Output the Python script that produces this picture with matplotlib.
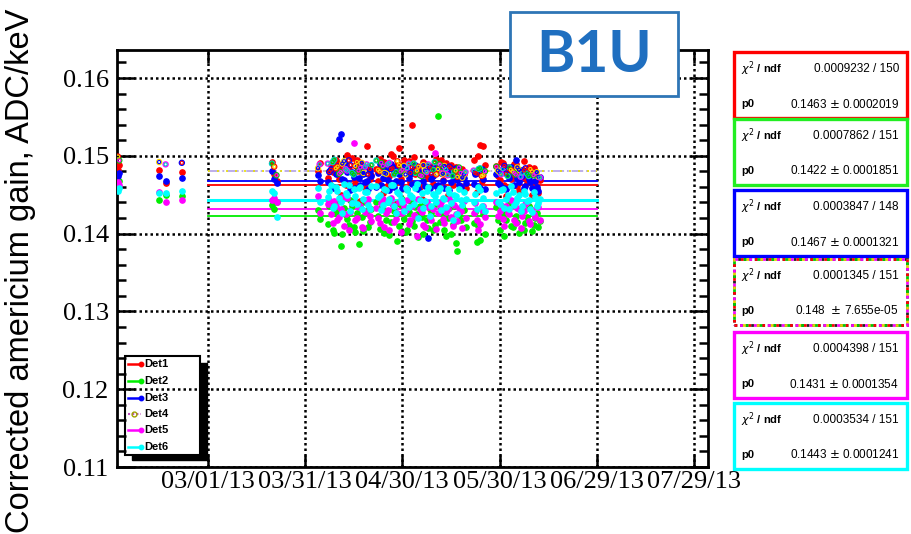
import numpy as np
import pandas as pd
import matplotlib
matplotlib.use('Agg')
import matplotlib.pyplot as plt
from matplotlib.patches import Rectangle
from matplotlib.lines import Line2D
from matplotlib.ticker import MultipleLocator

# days after 2013-02-01
start_date = '2013-02-01'
days_early = [0.3, 0.7, 13, 15, 20, 47.8, 48.5, 49.2]
days_main = [62, 65, 66, 67, 68, 69, 70, 71, 72, 73, 74, 75, 76, 77, 78,
             80, 81, 82, 83, 84, 85, 86, 87, 88, 89, 90, 91, 92, 93, 94, 95, 96, 97, 98, 99,
             100, 101, 102, 103, 104, 105, 106, 107,
             110, 111, 112, 113,
             117, 118, 119, 120, 121, 122, 123, 124, 125, 126, 127, 128, 129, 130]
days_main_b = [62.5, 65.5, 66.5, 67.5, 68.5, 69.5, 70.5, 71.5, 72.5, 73.5, 74.5, 75.5, 76.5, 77.5, 78.5,
               80.5, 81.5, 82.5, 83.5, 84.5, 85.5, 86.5, 87.5, 88.5, 89.5, 90.5, 91.5, 92.5, 93.5, 94.5,
               95.5, 96.5, 97.5, 98.5, 99.5, 100.5, 101.5, 102.5, 103.5, 104.5, 105.5, 106.5, 107.5,
               110.5, 111.5, 112.5, 113.5,
               117.5, 118.5, 119.5, 120.5, 121.5, 122.5, 123.5, 124.5, 125.5, 126.5, 127.5, 128.5, 129.5, 130.5]

det1 = [0.1482, 0.1488, 0.1482, 0.1465, 0.1479, 0.1492, 0.1477, 0.1468,
        0.1480, 0.1472, 0.1488, 0.1458, 0.1491, 0.1449, 0.1485, 0.1501, 0.1463, 0.1478, 0.1495, 0.1442, 0.1487, 0.1512, 0.1470,
        0.1483, 0.1496, 0.1452, 0.1489, 0.1474, 0.1500, 0.1438, 0.1510, 0.1481, 0.1457, 0.1493, 0.1539, 0.1476, 0.1486,
        0.1445, 0.1490, 0.1471, 0.1511, 0.1484, 0.1456, 0.1494, 0.1478, 0.1449, 0.1488, 0.1473, 0.1482, 0.1461, 0.1476,
        0.1495, 0.1453, 0.1514, 0.1512,
        0.1487, 0.1469, 0.1491, 0.1448, 0.1483, 0.1474, 0.1489, 0.1455, 0.1480, 0.1471, 0.1485, 0.1450, 0.1466, 0.1452]
det1_b = [0.1491, 0.1466, 0.1479, 0.1494, 0.1470, 0.1487, 0.1462, 0.1483, 0.1497, 0.1468, 0.1481, 0.1490, 0.1459, 0.1486, 0.1475,
          0.1468, 0.1485, 0.1492, 0.1463, 0.1502, 0.1479, 0.1488, 0.1470, 0.1495, 0.1484, 0.1466, 0.1499, 0.1481, 0.1460,
          0.1492, 0.1475, 0.1487, 0.1464, 0.1496, 0.1480, 0.1469, 0.1491, 0.1477, 0.1462, 0.1486, 0.1471, 0.1483, 0.1458,
          0.1479, 0.1500, 0.1467, 0.1488,
          0.1474, 0.1492, 0.1463, 0.1485, 0.1470, 0.1489, 0.1461, 0.1478, 0.1493, 0.1465, 0.1476, 0.1484, 0.1457, 0.1469]
det2 = [0.1460, 0.1468, 0.1443, 0.1449, 0.1448, 0.1437, 0.1431, 0.1440,
        0.1430, 0.1412, 0.1438, 0.1401, 0.1425, 0.1384, 0.1433, 0.1419, 0.1443, 0.1408, 0.1427, 0.1436, 0.1403, 0.1429, 0.1415,
        0.1440, 0.1406, 0.1431, 0.1418, 0.1398, 0.1437, 0.1424, 0.1410, 0.1445, 0.1402, 0.1428, 0.1416, 0.1434, 0.1396,
        0.1421, 0.1439, 0.1407, 0.1426, 0.1411, 0.1551, 0.1433, 0.1404, 0.1420, 0.1399, 0.1436, 0.1377, 0.1417, 0.1430,
        0.1413, 0.1389, 0.1392, 0.1425,
        0.1434, 0.1405, 0.1427, 0.1418, 0.1439, 0.1409, 0.1422, 0.1401, 0.1431, 0.1414, 0.1436, 0.1403, 0.1420, 0.1408]
det2_b = [0.1419, 0.1436, 0.1405, 0.1428, 0.1442, 0.1399, 0.1424, 0.1411, 0.1435, 0.1402, 0.1386, 0.1421, 0.1440, 0.1408, 0.1431,
          0.1423, 0.1433, 0.1401, 0.1440, 0.1415, 0.1429, 0.1390, 0.1437, 0.1419, 0.1405, 0.1442, 0.1410, 0.1425, 0.1436,
          0.1400, 0.1418, 0.1432, 0.1404, 0.1438, 0.1415, 0.1427, 0.1397, 0.1433, 0.1412, 0.1388, 0.1424, 0.1435, 0.1409,
          0.1428, 0.1410, 0.1434, 0.1400,
          0.1417, 0.1432, 0.1397, 0.1426, 0.1410, 0.1437, 0.1415, 0.1429, 0.1404, 0.1421, 0.1433, 0.1411, 0.1426, 0.1416]
det3 = [0.1474, 0.1478, 0.1474, 0.1468, 0.1472, 0.1480, 0.1470, 0.1465,
        0.1475, 0.1466, 0.1483, 0.1458, 0.1487, 0.1528, 0.1469, 0.1479, 0.1456, 0.1473, 0.1485, 0.1462, 0.1476, 0.1468, 0.1481,
        0.1460, 0.1489, 0.1471, 0.1480, 0.1456, 0.1486, 0.1467, 0.1477, 0.1459, 0.1483, 0.1472, 0.1464, 0.1488, 0.1457,
        0.1475, 0.1461, 0.1394, 0.1470, 0.1484, 0.1463, 0.1478, 0.1458, 0.1482, 0.1466, 0.1473, 0.1469, 0.1460, 0.1471,
        0.1464, 0.1478, 0.1459, 0.1470,
        0.1476, 0.1462, 0.1484, 0.1457, 0.1472, 0.1479, 0.1494, 0.1466, 0.1474, 0.1461, 0.1470, 0.1458, 0.1467, 0.1455]
det3_b = [0.1468, 0.1481, 0.1460, 0.1477, 0.1522, 0.1470, 0.1488, 0.1463, 0.1479, 0.1458, 0.1472, 0.1484, 0.1466, 0.1457, 0.1474,
          0.1478, 0.1463, 0.1485, 0.1469, 0.1490, 0.1460, 0.1481, 0.1466, 0.1487, 0.1457, 0.1476, 0.1483, 0.1462, 0.1479,
          0.1468, 0.1486, 0.1459, 0.1474, 0.1461, 0.1485, 0.1467, 0.1480, 0.1456, 0.1475, 0.1484, 0.1462, 0.1478, 0.1465,
          0.1476, 0.1461, 0.1483, 0.1457,
          0.1465, 0.1480, 0.1459, 0.1477, 0.1486, 0.1463, 0.1471, 0.1482, 0.1458, 0.1476, 0.1466, 0.1479, 0.1460, 0.1473]
det4 = [0.1499, 0.1494, 0.1492, 0.1489, 0.1491, 0.1490, 0.1486, 0.1475,
        0.1484, 0.1490, 0.1482, 0.1495, 0.1486, 0.1479, 0.1493, 0.1481, 0.1488, 0.1476, 0.1492, 0.1485, 0.1478, 0.1489, 0.1483,
        0.1494, 0.1480, 0.1487, 0.1477, 0.1491, 0.1484, 0.1479, 0.1488, 0.1482, 0.1476, 0.1490, 0.1485, 0.1478, 0.1486,
        0.1474, 0.1481, 0.1489, 0.1477, 0.1492, 0.1483, 0.1479, 0.1487, 0.1475, 0.1484, 0.1480, 0.1473, 0.1478, 0.1476,
        0.1481, 0.1477, 0.1484, 0.1475,
        0.1486, 0.1479, 0.1483, 0.1477, 0.1485, 0.1480, 0.1476, 0.1482, 0.1478, 0.1484, 0.1474, 0.1480, 0.1477, 0.1473]
det4_b = [0.1489, 0.1479, 0.1492, 0.1484, 0.1477, 0.1490, 0.1483, 0.1494, 0.1478, 0.1487, 0.1481, 0.1491, 0.1486, 0.1476, 0.1488,
          0.1482, 0.1491, 0.1478, 0.1489, 0.1483, 0.1476, 0.1493, 0.1480, 0.1487, 0.1484, 0.1478, 0.1490, 0.1481, 0.1475,
          0.1488, 0.1479, 0.1485, 0.1482, 0.1476, 0.1489, 0.1477, 0.1483, 0.1486, 0.1474, 0.1481, 0.1485, 0.1472, 0.1479,
          0.1478, 0.1483, 0.1474, 0.1480,
          0.1481, 0.1476, 0.1487, 0.1474, 0.1482, 0.1478, 0.1485, 0.1473, 0.1481, 0.1477, 0.1483, 0.1475, 0.1479, 0.1472]
det5 = [0.1466, 0.1462, 0.1453, 0.1441, 0.1443, 0.1443, 0.1446, 0.1440,
        0.1448, 0.1438, 0.1425, 0.1442, 0.1417, 0.1432, 0.1410, 0.1446, 0.1428, 0.1516, 0.1420, 0.1435, 0.1407, 0.1440, 0.1423,
        0.1433, 0.1414, 0.1445, 0.1427, 0.1404, 0.1437, 0.1419, 0.1441, 0.1426, 0.1430, 0.1412, 0.1436, 0.1422, 0.1444,
        0.1428, 0.1409, 0.1434, 0.1418, 0.1504, 0.1426, 0.1440, 0.1413, 0.1431, 0.1421, 0.1437, 0.1416, 0.1429, 0.1442,
        0.1427, 0.1418, 0.1412, 0.1435,
        0.1440, 0.1429, 0.1419, 0.1436, 0.1425, 0.1442, 0.1414, 0.1432, 0.1423, 0.1438, 0.1416, 0.1430, 0.1421, 0.1434]
det5_b = [0.1427, 0.1443, 0.1413, 0.1436, 0.1421, 0.1447, 0.1425, 0.1404, 0.1439, 0.1418, 0.1434, 0.1409, 0.1428, 0.1445, 0.1416,
          0.1420, 0.1439, 0.1408, 0.1430, 0.1446, 0.1415, 0.1427, 0.1402, 0.1435, 0.1443, 0.1418, 0.1424, 0.1397, 0.1432,
          0.1411, 0.1440, 0.1421, 0.1431, 0.1406, 0.1437, 0.1419, 0.1428, 0.1445, 0.1410, 0.1425, 0.1433, 0.1407, 0.1420,
          0.1439, 0.1404, 0.1430, 0.1421,
          0.1422, 0.1437, 0.1410, 0.1427, 0.1443, 0.1418, 0.1433, 0.1407, 0.1429, 0.1441, 0.1412, 0.1425, 0.1436, 0.1417]
det6 = [0.1455, 0.1459, 0.1452, 0.1452, 0.1455, 0.1455, 0.1452, 0.1421,
        0.1458, 0.1447, 0.1462, 0.1435, 0.1455, 0.1441, 0.1464, 0.1450, 0.1429, 0.1457, 0.1438, 0.1460, 0.1445, 0.1453, 0.1432,
        0.1461, 0.1449, 0.1437, 0.1456, 0.1444, 0.1463, 0.1427, 0.1451, 0.1440, 0.1458, 0.1434, 0.1447, 0.1459, 0.1420,
        0.1452, 0.1442, 0.1460, 0.1436, 0.1448, 0.1455, 0.1430, 0.1445, 0.1457, 0.1439, 0.1450, 0.1425, 0.1443, 0.1454,
        0.1440, 0.1432, 0.1456, 0.1446,
        0.1452, 0.1438, 0.1457, 0.1445, 0.1431, 0.1454, 0.1441, 0.1449, 0.1435, 0.1451, 0.1443, 0.1428, 0.1447, 0.1439]
det6_b = [0.1441, 0.1455, 0.1433, 0.1460, 0.1446, 0.1427, 0.1452, 0.1463, 0.1439, 0.1448, 0.1458, 0.1431, 0.1454, 0.1437, 0.1461,
          0.1447, 0.1430, 0.1457, 0.1441, 0.1462, 0.1435, 0.1453, 0.1444, 0.1429, 0.1456, 0.1449, 0.1438, 0.1464, 0.1443,
          0.1433, 0.1455, 0.1423, 0.1451, 0.1440, 0.1459, 0.1446, 0.1434, 0.1452, 0.1418, 0.1448, 0.1457, 0.1437, 0.1445,
          0.1451, 0.1460, 0.1436, 0.1429,
          0.1440, 0.1456, 0.1433, 0.1450, 0.1461, 0.1437, 0.1446, 0.1429, 0.1455, 0.1442, 0.1432, 0.1453, 0.1436, 0.1444]

det_names = ['Det1', 'Det2', 'Det3', 'Det4', 'Det5', 'Det6']
det_colors = ['#ff0000', '#00ee00', '#0000ff', '#c8a000', '#ff00ff', '#00ffff']
det4_speckle = ['#ff0000', '#00cc00', '#ffd700', '#ff00ff', '#0000ff', '#00cccc']

# pol0 fits
fit_p0 = [0.1463, 0.1422, 0.1467, 0.148, 0.1431, 0.1443]
fit_chi2 = ['0.0009232 / 150', '0.0007862 / 151', '0.0003847 / 148',
            '0.0001345 / 151', '0.0004398 / 151', '0.0003534 / 151']
fit_p0_text = ['0.1463 $\\pm$ 0.0002019', '0.1422 $\\pm$ 0.0001851', '0.1467 $\\pm$ 0.0001321',
               '0.148  $\\pm$ 7.655e-05', '0.1431 $\\pm$ 0.0001354', '0.1443 $\\pm$ 0.0001241']
fit_range = ['2013-03-01', '2013-06-29']

tick_dates = ['2013-03-01', '2013-03-31', '2013-04-30', '2013-05-30', '2013-06-29', '2013-07-29']
tick_labels = ['03/01/13', '03/31/13', '04/30/13', '05/30/13', '06/29/13', '07/29/13']
y_ticks = [0.11, 0.12, 0.13, 0.14, 0.15, 0.16]
y_tick_labels = ['0.11', '0.12', '0.13', '0.14', '0.15', '0.16']

W, H = 912, 534
def fx(x):
    return x / W
def fy(y):
    return 1 - y / H

base = pd.Timestamp(start_date)
dates = base + pd.to_timedelta(days_early + days_main + days_main_b, unit='D')
series = [det1 + det1_b, det2 + det2_b, det3 + det3_b, det4 + det4_b, det5 + det5_b, det6 + det6_b]

fig = plt.figure(figsize=(9.12, 5.34), dpi=100)
ax = fig.add_axes([fx(117), fy(467), (708 - 117) / W, (467 - 50) / H])
ax.set_axisbelow(False)

# fit lines
f0, f1 = pd.Timestamp(fit_range[0]), pd.Timestamp(fit_range[1])
lw_fit = [1.3, 1.3, 1.3, 1.3, 1.3, 2.2]
for i, p0 in enumerate(fit_p0):
    if i == 3:
        ax.plot([f0, f1], [p0, p0], color='#b8a8e8', lw=1.3, ls='-.', zorder=3)
        ax.plot([f0, f1], [p0, p0], color='#e8e000', lw=1.3, ls=(0, (1, 4)), zorder=3)
    else:
        ax.plot([f0, f1], [p0, p0], color=det_colors[i], lw=lw_fit[i], zorder=3)

# data points
for i, vals in enumerate(series):
    if i == 3:
        ec = [det4_speckle[k % len(det4_speckle)] for k in range(len(vals))]
        ax.scatter(dates, vals, s=13, facecolors='none', edgecolors=ec, linewidths=1.0, zorder=4 + i)
        ec2 = [det4_speckle[(k + 2) % len(det4_speckle)] for k in range(len(vals))]
        ax.scatter(dates, vals, s=5, facecolors='none', edgecolors=ec2, linewidths=0.8, zorder=4 + i)
    else:
        ax.plot(dates, vals, 'o', ms=3.8, color=det_colors[i], mec=det_colors[i], ls='none', zorder=4 + i)

ax.set_xlim(base, base + pd.Timedelta(days=182.3))
ax.set_ylim(0.11, 0.1636)
ax.set_xticks(pd.to_datetime(tick_dates))
ax.set_xticklabels(tick_labels)
ax.set_yticks(y_ticks)
ax.set_yticklabels(y_tick_labels)
ax.yaxis.set_minor_locator(MultipleLocator(0.002))

for s in ax.spines.values():
    s.set_linewidth(2.0)
ax.tick_params(which='both', direction='in', top=True, right=True, width=1.8, colors='black')
ax.tick_params(axis='y', which='major', length=13, pad=6)
ax.tick_params(axis='y', which='minor', length=6.5)
ax.tick_params(axis='x', which='major', length=9, pad=3)
for lab in ax.get_xticklabels() + ax.get_yticklabels():
    lab.set_fontfamily('Liberation Serif')
    lab.set_fontsize(19)
ax.grid(True, which='major', color='black', linestyle=(0, (1, 1.2)), linewidth=1.8)

fig.text(fx(21), fy(271), 'Corrected americium gain, ADC/keV', rotation=90,
         ha='center', va='center', fontsize=23.5, family='Liberation Sans')

# legend (ROOT style, black shadow)
tf = fig.transFigure
ax.add_patch(Rectangle((fx(132), fy(460)), (207 - 132) / W, (460 - 363) / H, transform=tf,
                       facecolor='black', edgecolor='black', zorder=1, clip_on=False))
ax.add_patch(Rectangle((fx(125), fy(455)), (200 - 125) / W, (455 - 356) / H, transform=tf,
                       facecolor='white', edgecolor='black', lw=1.5, zorder=1.1, clip_on=False))
leg_y = [364, 381, 398, 414, 430, 447]
for i, name in enumerate(det_names):
    yy = fy(leg_y[i])
    if i == 3:
        ax.add_line(Line2D([fx(128), fx(141)], [yy, yy], transform=tf, color='#c050c0', lw=1.5,
                           ls=(0, (1, 1)), zorder=5, clip_on=False))
        ax.add_line(Line2D([fx(134.5)], [yy], transform=tf, marker='o', ms=3.5, mfc='none',
                           mec='#a0a000', mew=1.0, zorder=6, clip_on=False))
    else:
        ax.add_line(Line2D([fx(128), fx(141)], [yy, yy], transform=tf, color=det_colors[i], lw=1.8,
                           marker='o', markevery=[1], ms=3.2, zorder=5, clip_on=False))
    fig.text(fx(144), yy, name, fontsize=8, weight='bold', family='Liberation Sans',
             ha='left', va='center', zorder=6)

# fit stat boxes
box_tops = [52, 119, 190, 259, 332, 403]
box_h = 66
for i in range(6):
    top = box_tops[i]
    if i == 3:
        fig.add_artist(Rectangle((fx(734), fy(top + box_h)), (907 - 734) / W, box_h / H, transform=tf,
                                 facecolor='white', edgecolor='#222222', lw=2.0, ls=(0, (1, 1))))
        for k, c in enumerate(['#ff0000', '#00cc00', '#e8d000', '#ff00ff']):
            fig.add_artist(Rectangle((fx(734), fy(top + box_h)), (907 - 734) / W, box_h / H, transform=tf,
                                     facecolor='none', edgecolor=c, lw=2.0, ls=(k, (1, 4))))
    else:
        fig.add_artist(Rectangle((fx(734), fy(top + box_h)), (907 - 734) / W, box_h / H, transform=tf,
                                 facecolor='white', edgecolor=det_colors[i] if i != 1 else '#22ee22', lw=2.4))
    fig.text(fx(741), fy(top + 17), '$\\chi^2$ / ndf', fontsize=8, weight='bold',
             family='Liberation Sans', ha='left', va='center')
    fig.text(fx(899), fy(top + 17), fit_chi2[i], fontsize=8.5, family='Liberation Sans',
             ha='right', va='center')
    fig.text(fx(741), fy(top + 52), 'p0', fontsize=8, weight='bold',
             family='Liberation Sans', ha='left', va='center')
    fig.text(fx(899), fy(top + 52), fit_p0_text[i], fontsize=8.5, family='Liberation Sans',
             ha='right', va='center')

# B1U label
fig.add_artist(Rectangle((fx(510), fy(96)), (678 - 510) / W, (96 - 12) / H, transform=tf,
                         facecolor='white', edgecolor='#2e75b6', lw=2.0, zorder=5))
fig.text(fx(594), fy(55), 'B1U', fontsize=42, weight='bold', color='#1f6fc0',
         family='Lato', ha='center', va='center', zorder=6)

fig.savefig('out.png', dpi=100)
